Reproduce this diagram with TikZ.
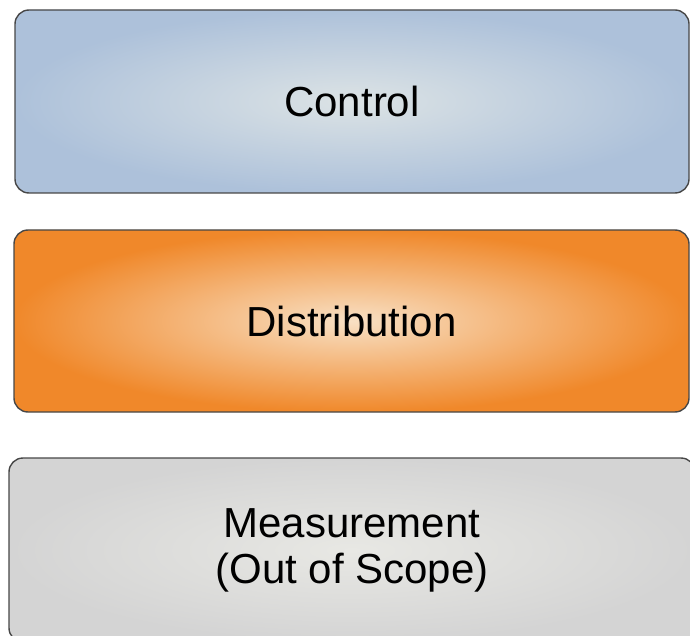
\documentclass[tikz,border=0pt]{standalone}
\usepackage{fontspec}
\setmainfont{Liberation Sans}
\usepackage{xcolor}
\usetikzlibrary{positioning,calc}

\definecolor{ctrlout}{HTML}{ADC1DA}
\definecolor{ctrlin}{HTML}{DCE3E5}
\definecolor{distout}{HTML}{F0882A}
\definecolor{distin}{HTML}{F8E0C4}
\definecolor{measout}{HTML}{D4D4D4}
\definecolor{measin}{HTML}{E8E8E4}

\tikzset{
  layerbox/.style={draw=black!72, line width=0.7pt, rounded corners=7pt,
    align=center, font=\fontsize{21}{23}\selectfont, inner sep=0pt}
}

\begin{document}
\begin{tikzpicture}[x=0.5pt, y=-0.5pt]
\useasboundingbox (0,0) rectangle (690,636);

\node [layerbox, inner color=ctrlin, outer color=ctrlout,
  minimum width=337pt, minimum height=91.5pt] (CTRL) at (352,101.5) {Control};
\node [layerbox, inner color=distin, outer color=distout,
  minimum width=337.5pt, minimum height=91pt] (DIST) at (351.5,321) {Distribution};
\node [layerbox, inner color=measin, outer color=measout,
  minimum width=343pt, minimum height=92pt] (MEAS) at (352,550)
  {Measurement\\(Out of Scope)};

\end{tikzpicture}
\end{document}
